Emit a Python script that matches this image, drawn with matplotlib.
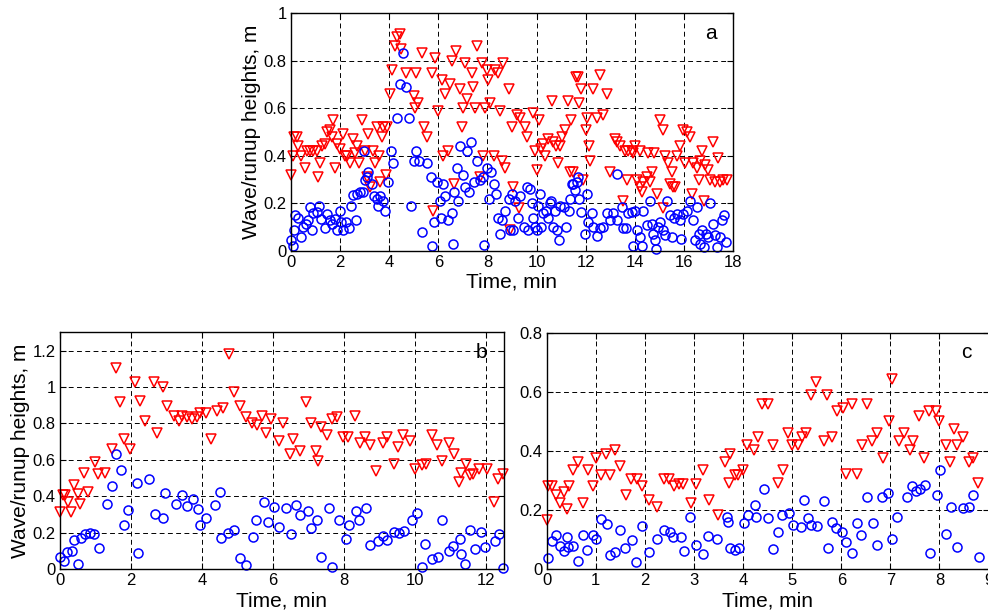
import matplotlib.pyplot as plt
from matplotlib.ticker import FuncFormatter

plt.rcParams['font.family'] = ['Liberation Sans', 'DejaVu Sans']

# panel a: runup (triangles) and wave (circles) heights
a_runup_t = [0, 0.1, 0.12, 0.25, 0.3, 0.4, 0.57, 0.64, 0.77, 0.91, 1.05, 1.11, 1.18, 1.25,
             1.39, 1.45, 1.59, 1.66, 1.7, 1.79, 1.86, 2.0, 2.1, 2.2, 2.27, 2.4, 2.54, 2.6,
             2.68, 2.78, 2.88, 3.0, 3.08, 3.15, 3.22, 3.35, 3.42, 3.49, 3.6, 3.63, 3.7, 3.76,
             3.87, 3.9, 4.03, 4.1, 4.24, 4.3, 4.45, 4.5, 4.7, 4.99, 5.05, 5.1, 5.19, 5.33,
             5.4, 5.53, 5.73, 5.8, 5.87, 6.0, 6.14, 6.2, 6.28, 6.41, 6.48, 6.55, 6.62, 6.73,
             6.89, 6.96, 7.02, 7.09, 7.16, 7.36, 7.43, 7.5, 7.57, 7.68, 7.77, 7.8, 7.9, 7.98,
             8.04, 8.1, 8.25, 8.3, 8.45, 8.52, 8.6, 8.65, 8.72, 8.86, 8.93, 9.0, 9.06, 9.2,
             9.27, 9.33, 9.54, 9.6, 9.86, 9.93, 10.0, 10.1, 10.2, 10.27, 10.35, 10.48, 10.61,
             10.68, 10.79, 10.88, 10.95, 11.02, 11.15, 11.29, 11.36, 11.39, 11.5, 11.6, 11.7,
             11.74, 11.83, 11.9, 12.0, 12.07, 12.15, 12.17, 12.3, 12.45, 12.58, 12.72, 12.85,
             12.99, 13.2, 13.26, 13.4, 13.53, 13.6, 13.67, 13.73, 13.87, 13.94, 14.0, 14.08,
             14.21, 14.21, 14.28, 14.35, 14.48, 14.55, 14.62, 14.69, 14.78, 14.9, 15.03, 15.16,
             15.16, 15.23, 15.37, 15.43, 15.5, 15.57, 15.64, 15.71, 15.84, 15.98, 16.05, 16.11,
             16.25, 16.32, 16.38, 16.52, 16.6, 16.66, 16.73, 16.8, 16.86, 17.0, 17.07, 17.17,
             17.27, 17.4, 17.47, 17.6, 17.74]
a_runup_h = [0.32, 0.4, 0.48, 0.48, 0.44, 0.4, 0.35, 0.42, 0.42, 0.42, 0.42, 0.31, 0.37, 0.44,
             0.45, 0.5, 0.51, 0.48, 0.55, 0.35, 0.45, 0.43, 0.49, 0.4, 0.4, 0.37, 0.47, 0.41,
             0.44, 0.37, 0.55, 0.42, 0.31, 0.49, 0.27, 0.42, 0.37, 0.52, 0.4, 0.29, 0.48, 0.52,
             0.32, 0.52, 0.66, 0.76, 0.86, 0.9, 0.91, 0.85, 0.75, 0.65, 0.6, 0.75, 0.62, 0.83,
             0.52, 0.48, 0.75, 0.17, 0.81, 0.59, 0.72, 0.4, 0.66, 0.42, 0.7, 0.8, 0.28, 0.84,
             0.68, 0.52, 0.6, 0.79, 0.64, 0.75, 0.69, 0.6, 0.86, 0.31, 0.79, 0.4, 0.6, 0.76,
             0.72, 0.62, 0.4, 0.76, 0.75, 0.59, 0.38, 0.79, 0.35, 0.68, 0.09, 0.52, 0.27, 0.57,
             0.18, 0.56, 0.52, 0.48, 0.58, 0.42, 0.34, 0.55, 0.43, 0.45, 0.4, 0.47, 0.63,
             0.46, 0.44, 0.37, 0.44, 0.48, 0.51, 0.63, 0.33, 0.55, 0.33, 0.73, 0.73,
             0.62, 0.68, 0.3, 0.51, 0.56, 0.44, 0.38, 0.68, 0.56, 0.74, 0.57, 0.66,
             0.33, 0.47, 0.46, 0.44, 0.21, 0.42, 0.3, 0.42, 0.42, 0.41, 0.44, 0.3,
             0.42, 0.27, 0.25, 0.29, 0.31, 0.41, 0.29, 0.33, 0.41, 0.24, 0.55, 0.51,
             0.18, 0.4, 0.37, 0.28, 0.33, 0.27, 0.27, 0.4, 0.44, 0.51, 0.37, 0.5,
             0.48, 0.24, 0.37, 0.35, 0.3, 0.38, 0.42, 0.21, 0.36, 0.34, 0.3, 0.46,
             0.29, 0.39, 0.29, 0.3, 0.3]
a_wave_t = [0, 0.07, 0.12, 0.16, 0.3, 0.39, 0.5, 0.61, 0.71, 0.77, 0.87, 0.91, 1.05, 1.15,
            1.21, 1.39, 1.45, 1.6, 1.66, 1.79, 1.89, 2.0, 2.02, 2.13, 2.24, 2.38, 2.43, 2.51,
            2.65, 2.7, 2.81, 2.92, 2.98, 3.02, 3.11, 3.15, 3.29, 3.38, 3.49, 3.56, 3.63, 3.74,
            3.83, 3.97, 4.08, 4.17, 4.31, 4.44, 4.55, 4.69, 4.82, 4.89, 4.99, 5.1, 5.23, 5.33,
            5.53, 5.69, 5.73, 5.83, 5.94, 6.05, 6.1, 6.21, 6.28, 6.41, 6.55, 6.59, 6.64, 6.75,
            6.82, 6.89, 7.0, 7.09, 7.16, 7.27, 7.32, 7.46, 7.57, 7.68, 7.81, 7.87, 7.98, 8.08,
            8.14, 8.25, 8.36, 8.45, 8.52, 8.59, 8.72, 8.86, 8.93, 9.0, 9.06, 9.13, 9.23, 9.33,
            9.47, 9.6, 9.67, 9.73, 9.8, 9.86, 9.93, 10.0, 10.07, 10.14, 10.2, 10.27, 10.4,
            10.48, 10.54, 10.6, 10.68, 10.75, 10.82, 10.92, 10.95, 11.1, 11.2, 11.33, 11.38,
            11.43, 11.5, 11.56, 11.63, 11.7, 11.74, 11.83, 11.97, 12.04, 12.1, 12.24, 12.3,
            12.45, 12.58, 12.72, 12.85, 12.99, 13.12, 13.26, 13.29, 13.46, 13.53, 13.64, 13.73,
            13.87, 13.94, 14.0, 14.08, 14.21, 14.28, 14.35, 14.48, 14.62, 14.69, 14.75, 14.82,
            14.86, 14.96, 15.03, 15.16, 15.23, 15.33, 15.43, 15.5, 15.6, 15.71, 15.84, 15.9,
            15.98, 16.11, 16.25, 16.36, 16.45, 16.52, 16.6, 16.66, 16.73, 16.82, 16.9, 17.0,
            17.07, 17.17, 17.27, 17.34, 17.47, 17.54, 17.64, 17.72]
a_wave_h = [0.045, 0.02, 0.09, 0.15, 0.14, 0.06, 0.1, 0.115, 0.13, 0.185, 0.09, 0.16, 0.165,
            0.19, 0.135, 0.095, 0.157, 0.13, 0.115, 0.135, 0.087, 0.17, 0.12, 0.087, 0.12,
            0.095, 0.19, 0.235, 0.13, 0.24, 0.25, 0.25, 0.42, 0.3, 0.31, 0.33, 0.28, 0.23,
            0.22, 0.19, 0.23, 0.21, 0.17, 0.29, 0.42, 0.37, 0.56, 0.7, 0.83, 0.69, 0.56, 0.19,
            0.38, 0.42, 0.38, 0.08, 0.37, 0.31, 0.02, 0.12, 0.29, 0.21, 0.14, 0.28, 0.23, 0.13,
            0.16, 0.03, 0.25, 0.35, 0.21, 0.44, 0.32, 0.27, 0.42, 0.25, 0.46, 0.29, 0.38, 0.3,
            0.31, 0.025, 0.35, 0.22, 0.33, 0.28, 0.24, 0.14, 0.07, 0.13, 0.17, 0.22, 0.09,
            0.24, 0.09, 0.21, 0.14, 0.23, 0.1, 0.27, 0.09, 0.26, 0.2, 0.14, 0.1, 0.09, 0.19,
            0.24, 0.1, 0.16, 0.17, 0.14, 0.2, 0.21, 0.1, 0.17, 0.09, 0.045, 0.19, 0.185,
            0.1, 0.17, 0.22, 0.28, 0.28, 0.255, 0.29, 0.31, 0.22, 0.165, 0.07, 0.24, 0.12,
            0.16, 0.1, 0.065, 0.095, 0.1, 0.16, 0.13, 0.16, 0.13, 0.325, 0.185, 0.095, 0.095,
            0.16, 0.165, 0.02, 0.17, 0.09, 0.06, 0.02, 0.17, 0.11, 0.21, 0.115, 0.07, 0.045,
            0.01, 0.1, 0.12, 0.087, 0.066, 0.21, 0.15, 0.06, 0.14, 0.157, 0.13, 0.052,
            0.157, 0.17, 0.21, 0.13, 0.045, 0.185, 0.073, 0.03, 0.087, 0.017, 0.073, 0.06,
            0.2, 0.115, 0.066, 0.017, 0.06, 0.13, 0.15, 0.038]

# panel b
b_runup_t = [0, 0.08, 0.14, 0.24, 0.3, 0.4, 0.52, 0.57, 0.68, 0.8, 0.99, 1.08, 1.27, 1.46,
             1.58, 1.68, 1.81, 1.98, 2.12, 2.26, 2.4, 2.64, 2.73, 2.9, 3.01, 3.2, 3.34, 3.44,
             3.58, 3.72, 3.86, 3.95, 4.12, 4.26, 4.43, 4.6, 4.76, 4.9, 5.07, 5.23, 5.41, 5.56,
             5.7, 5.79, 5.95, 6.17, 6.28, 6.47, 6.56, 6.77, 6.92, 7.08, 7.22, 7.27, 7.36, 7.52,
             7.67, 7.8, 7.98, 8.12, 8.3, 8.45, 8.59, 8.73, 8.9, 9.09, 9.22, 9.4, 9.53, 9.67,
             9.86, 10.0, 10.19, 10.31, 10.47, 10.61, 10.75, 10.94, 11.08, 11.22, 11.29, 11.44,
             11.55, 11.64, 11.81, 12.02, 12.21, 12.32, 12.47]
b_runup_h = [0.315, 0.405, 0.405, 0.37, 0.315, 0.46, 0.415, 0.36, 0.53, 0.425, 0.59, 0.525,
             0.53, 0.66, 1.105, 0.915, 0.715, 0.66, 1.025, 0.925, 0.815, 1.025, 0.75, 1.0,
             0.895, 0.84, 0.815, 0.84, 0.835, 0.825, 0.835, 0.86, 0.86, 0.715, 0.87, 0.885,
             1.18, 0.97, 0.895, 0.835, 0.805, 0.79, 0.84, 0.75, 0.825, 0.705, 0.805, 0.635,
             0.715, 0.65, 0.915, 0.805, 0.65, 0.595, 0.78, 0.735, 0.825, 0.835, 0.725, 0.725,
             0.84, 0.695, 0.725, 0.68, 0.54, 0.695, 0.725, 0.58, 0.67, 0.735, 0.705, 0.55,
             0.57, 0.58, 0.735, 0.68, 0.595, 0.695, 0.635, 0.48, 0.53, 0.58, 0.515, 0.525,
             0.55, 0.55, 0.37, 0.495, 0.525]
b_wave_t = [0, 0.11, 0.21, 0.33, 0.4, 0.52, 0.58, 0.71, 0.85, 0.97, 1.11, 1.32, 1.46, 1.58,
            1.71, 1.81, 1.91, 2.17, 2.21, 2.5, 2.68, 2.9, 2.95, 3.28, 3.44, 3.58, 3.74, 3.88,
            3.95, 4.12, 4.36, 4.5, 4.54, 4.73, 4.9, 5.07, 5.24, 5.43, 5.51, 5.74, 5.86, 6.02,
            6.17, 6.36, 6.49, 6.64, 6.77, 6.99, 7.08, 7.24, 7.34, 7.57, 7.67, 7.86, 8.04, 8.14,
            8.33, 8.43, 8.61, 8.73, 8.95, 9.1, 9.22, 9.39, 9.55, 9.69, 9.92, 10.06, 10.19,
            10.28, 10.47, 10.63, 10.75, 10.96, 11.07, 11.26, 11.29, 11.41, 11.55, 11.69,
            11.85, 11.97, 12.24, 12.35, 12.47]
b_wave_h = [0.065, 0.047, 0.096, 0.1, 0.16, 0.03, 0.17, 0.196, 0.2, 0.196, 0.115, 0.356,
            0.456, 0.633, 0.545, 0.242, 0.327, 0.475, 0.087, 0.496, 0.302, 0.284, 0.418, 0.36,
            0.41, 0.345, 0.384, 0.333, 0.242, 0.284, 0.355, 0.424, 0.17, 0.2, 0.218, 0.06,
            0.024, 0.178, 0.273, 0.37, 0.26, 0.342, 0.233, 0.336, 0.193, 0.35, 0.296, 0.318,
            0.229, 0.269, 0.069, 0.336, 0.015, 0.273, 0.164, 0.242, 0.32, 0.269, 0.336, 0.133,
            0.156, 0.184, 0.16, 0.205, 0.2, 0.209, 0.269, 0.309, 0.015, 0.138, 0.055, 0.065,
            0.269, 0.102, 0.127, 0.164, 0.084, 0.029, 0.218, 0.109, 0.205, 0.12, 0.156, 0.191,
            0.005]

# panel c
c_runup_t = [0.01, 0.03, 0.1, 0.19, 0.28, 0.35, 0.42, 0.46, 0.53, 0.64, 0.75, 0.85, 0.94,
             1.0, 1.1, 1.21, 1.3, 1.39, 1.49, 1.61, 1.71, 1.84, 1.95, 2.09, 2.24, 2.39, 2.49,
             2.59, 2.7, 2.78, 2.94, 3.04, 3.19, 3.31, 3.49, 3.63, 3.72, 3.74, 3.83, 3.9, 4.0,
             4.08, 4.22, 4.31, 4.39, 4.51, 4.61, 4.71, 4.81, 4.92, 5.0, 5.12, 5.21, 5.29, 5.39,
             5.49, 5.64, 5.71, 5.82, 5.91, 6.04, 6.1, 6.21, 6.32, 6.43, 6.53, 6.63, 6.73, 6.85,
             6.97, 7.04, 7.18, 7.27, 7.39, 7.46, 7.58, 7.68, 7.79, 7.92, 8.0, 8.13, 8.22, 8.29,
             8.35, 8.47, 8.6, 8.68, 8.79]
c_runup_h = [0.166, 0.28, 0.28, 0.25, 0.225, 0.26, 0.205, 0.28, 0.335, 0.363, 0.225, 0.335,
             0.28, 0.378, 0.32, 0.39, 0.32, 0.405, 0.35, 0.25, 0.307, 0.307, 0.28, 0.236,
             0.211, 0.307, 0.307, 0.28, 0.29, 0.29, 0.225, 0.29, 0.335, 0.236, 0.183, 0.363,
             0.292, 0.391, 0.32, 0.318, 0.337, 0.419, 0.404, 0.447, 0.56, 0.56, 0.419, 0.292,
             0.335, 0.46, 0.419, 0.419, 0.447, 0.46, 0.588, 0.633, 0.434, 0.588, 0.447, 0.535,
             0.546, 0.321, 0.56, 0.321, 0.419, 0.56, 0.434, 0.46, 0.378, 0.503, 0.644, 0.434,
             0.46, 0.404, 0.434, 0.517, 0.378, 0.535, 0.535, 0.503, 0.419, 0.363, 0.475,
             0.419, 0.447, 0.363, 0.378, 0.292]
c_wave_t = [0.03, 0.1, 0.19, 0.28, 0.35, 0.42, 0.44, 0.53, 0.64, 0.73, 0.83, 0.94, 1.0, 1.1,
            1.22, 1.3, 1.39, 1.49, 1.59, 1.73, 1.82, 1.95, 2.09, 2.24, 2.39, 2.52, 2.58, 2.73,
            2.79, 2.92, 3.04, 3.19, 3.29, 3.47, 3.67, 3.69, 3.73, 3.83, 3.92, 4.01, 4.1, 4.24,
            4.27, 4.42, 4.51, 4.61, 4.71, 4.8, 4.94, 5.02, 5.17, 5.24, 5.32, 5.39, 5.51, 5.64,
            5.73, 5.82, 5.9, 6.02, 6.1, 6.21, 6.32, 6.41, 6.53, 6.65, 6.73, 6.82, 6.95, 7.04,
            7.14, 7.33, 7.43, 7.52, 7.61, 7.7, 7.8, 7.95, 8.02, 8.14, 8.24, 8.35, 8.47, 8.6,
            8.68, 8.8]
c_wave_h = [0.037, 0.097, 0.116, 0.079, 0.063, 0.108, 0.076, 0.079, 0.029, 0.116, 0.065,
            0.116, 0.104, 0.169, 0.153, 0.048, 0.06, 0.133, 0.071, 0.099, 0.026, 0.146, 0.057,
            0.104, 0.133, 0.127, 0.108, 0.108, 0.063, 0.178, 0.082, 0.052, 0.112, 0.101, 0.178,
            0.161, 0.071, 0.065, 0.071, 0.157, 0.185, 0.217, 0.178, 0.273, 0.172, 0.067, 0.127,
            0.183, 0.191, 0.149, 0.142, 0.234, 0.172, 0.149, 0.146, 0.231, 0.071, 0.161, 0.138,
            0.127, 0.093, 0.054, 0.155, 0.116, 0.243, 0.155, 0.082, 0.245, 0.258, 0.104, 0.178,
            0.243, 0.281, 0.265, 0.273, 0.284, 0.056, 0.251, 0.335, 0.121, 0.211, 0.074, 0.206,
            0.211, 0.251, 0.04]

a_xticks = [0, 2, 4, 6, 8, 10, 12, 14, 16, 18]
a_yticks = [0, 0.2, 0.4, 0.6, 0.8, 1]
b_xticks = [0, 2, 4, 6, 8, 10, 12]
b_yticks = [0, 0.2, 0.4, 0.6, 0.8, 1, 1.2]
c_xticks = [0, 1, 2, 3, 4, 5, 6, 7, 8, 9]
c_yticks = [0, 0.2, 0.4, 0.6, 0.8]


def panel(ax, rt, rh, wt, wh, xlim, ylim, xticks, yticks, letter, ylabel=True):
    ax.plot(rt, rh, 'v', ms=7, mfc='none', mec='r', mew=1.1, clip_on=False)
    ax.plot(wt, wh, 'o', ms=6.5, mfc='none', mec='b', mew=1.1, clip_on=False)
    ax.set_xlim(xlim)
    ax.set_ylim(ylim)
    ax.set_xticks(xticks)
    ax.set_yticks(yticks)
    fmt = FuncFormatter(lambda v, p: '%g' % v)
    ax.xaxis.set_major_formatter(fmt)
    ax.yaxis.set_major_formatter(fmt)
    ax.grid(True, color='k', linestyle=(0, (5, 3.5)), linewidth=0.7)
    ax.set_axisbelow(True)
    ax.tick_params(direction='in', top=True, right=True, length=4, labelsize=12, pad=3)
    for s in ax.spines.values():
        s.set_linewidth(1.0)
    ax.set_xlabel('Time, min', fontsize=15, labelpad=2)
    if ylabel:
        ax.set_ylabel('Wave/runup heights, m', fontsize=15, labelpad=2)
    ax.text(0.95, 0.915, letter, transform=ax.transAxes, fontsize=15,
            ha='center', va='center')


fig = plt.figure(figsize=(9.88, 6.14), dpi=100)
ax_a = fig.add_axes([0.2945, 0.5912, 0.4474, 0.3876])
ax_b = fig.add_axes([0.0607, 0.0728, 0.4494, 0.386])
ax_c = fig.add_axes([0.5533, 0.0728, 0.4473, 0.3853])

panel(ax_a, a_runup_t, a_runup_h, a_wave_t, a_wave_h, (0, 18), (0, 1), a_xticks, a_yticks, 'a')
panel(ax_b, b_runup_t, b_runup_h, b_wave_t, b_wave_h, (0, 12.5), (0, 1.3), b_xticks, b_yticks, 'b')
panel(ax_c, c_runup_t, c_runup_h, c_wave_t, c_wave_h, (0, 9), (0, 0.8), c_xticks, c_yticks, 'c',
      ylabel=False)

fig.savefig('out.png', dpi=100)
